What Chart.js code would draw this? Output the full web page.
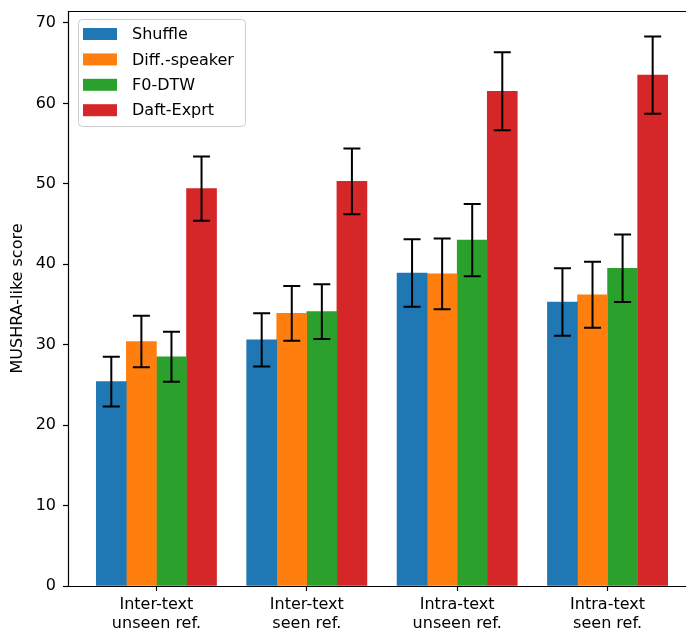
<!DOCTYPE html>
<html>
<head>
<meta charset="utf-8">
<script src="https://cdn.jsdelivr.net/npm/chart.js@4/dist/chart.umd.min.js"></script>
<style>
  html, body { margin: 0; padding: 0; background: #fff; }
  #wrap { width: 686px; height: 633px; position: relative; }
</style>
</head>
<body>
<div id="wrap"><canvas id="scoreChart"></canvas></div>
<script>
// categories (x tick labels, two lines each)
const categories = [
    ["Inter-text", "unseen ref."],
    ["Inter-text", "seen ref."],
    ["Intra-text", "unseen ref."],
    ["Intra-text", "seen ref."]
];
const systems = ["Shuffle", "Diff.-speaker", "F0-DTW", "Daft-Exprt"];

// mean scores and error bar half-widths
const shuffleScores = [25.4, 30.6, 38.9, 35.3];
const shuffleErr = [3.1, 3.3, 4.2, 4.2];
const diffSpeakerScores = [30.4, 33.9, 38.8, 36.2];
const diffSpeakerErr = [3.2, 3.4, 4.4, 4.1];
const f0DtwScores = [28.5, 34.1, 43.0, 39.5];
const f0DtwErr = [3.1, 3.4, 4.5, 4.2];
const daftScores = [49.4, 50.3, 61.5, 63.5];
const daftErr = [4.0, 4.1, 4.85, 4.8];

const yTicks = [0, 10, 20, 30, 40, 50, 60, 70];

const colors = ["#1f77b4", "#ff7f0e", "#2ca02c", "#d62728"];
const barOffsets = [-0.3, -0.1, 0.1, 0.3];
const FONT = "'DejaVu Sans', sans-serif";

Chart.defaults.font.family = FONT;
Chart.defaults.color = "#000";

const allScores = [shuffleScores, diffSpeakerScores, f0DtwScores, daftScores];
const allErr = [shuffleErr, diffSpeakerErr, f0DtwErr, daftErr];

const datasets = systems.map((name, d) => ({
    label: name,
    data: allScores[d].map((v, i) => ({ x: i + barOffsets[d], y: v })),
    errors: allErr[d],
    backgroundColor: colors[d],
    borderWidth: 0,
    grouped: false,
    barThickness: 30
}));

// error bars with caps
const errorBars = {
    id: "errorBars",
    afterDatasetsDraw(chart) {
        const ctx = chart.ctx;
        const yScale = chart.scales.y;
        ctx.save();
        ctx.strokeStyle = "#000";
        ctx.lineWidth = 2;
        chart.data.datasets.forEach((ds, d) => {
            chart.getDatasetMeta(d).data.forEach((bar, i) => {
                const v = ds.data[i].y;
                const e = ds.errors[i];
                const top = yScale.getPixelForValue(v + e);
                const bot = yScale.getPixelForValue(v - e);
                const x = bar.x;
                ctx.beginPath();
                ctx.moveTo(x, top); ctx.lineTo(x, bot);
                ctx.moveTo(x - 8.5, top); ctx.lineTo(x + 8.5, top);
                ctx.moveTo(x - 8.5, bot); ctx.lineTo(x + 8.5, bot);
                ctx.stroke();
            });
        });
        ctx.restore();
    }
};

// axes frame (right spine falls outside the picture) + legend box
const frameAndLegend = {
    id: "frameAndLegend",
    afterDraw(chart) {
        const ctx = chart.ctx;
        const a = chart.chartArea;
        ctx.save();
        ctx.strokeStyle = "#000";
        ctx.lineWidth = 1.2;
        ctx.beginPath();
        ctx.moveTo(chart.width, a.top + 0.5);
        ctx.lineTo(a.left + 0.5, a.top + 0.5);
        ctx.lineTo(a.left + 0.5, a.bottom + 0.5);
        ctx.lineTo(chart.width, a.bottom + 0.5);
        ctx.stroke();

        const bx = a.left + 10, by = a.top + 8, bw = 167, bh = 107, r = 4;
        ctx.beginPath();
        ctx.roundRect(bx + 0.5, by + 0.5, bw, bh, r);
        ctx.fillStyle = "rgba(255,255,255,0.8)";
        ctx.fill();
        ctx.strokeStyle = "#cccccc";
        ctx.lineWidth = 1;
        ctx.stroke();

        ctx.font = "16px " + FONT;
        ctx.textBaseline = "middle";
        ctx.textAlign = "left";
        chart.data.datasets.forEach((ds, d) => {
            const cy = by + 15 + d * 25.4;
            ctx.fillStyle = ds.backgroundColor;
            ctx.fillRect(bx + 5, cy - 6, 34, 12);
            ctx.fillStyle = "#000";
            ctx.fillText(ds.label, bx + 54, cy + 1);
        });
        ctx.restore();
    }
};

new Chart(document.getElementById("scoreChart"), {
    type: "bar",
    data: { datasets: datasets },
    options: {
        responsive: true,
        maintainAspectRatio: false,
        animation: false,
        layout: { padding: { top: 11, right: 1, left: 0, bottom: 0 } },
        plugins: {
            legend: { display: false },
            tooltip: { enabled: false }
        },
        scales: {
            x: {
                type: "linear",
                min: -0.588,
                max: 3.515,
                offset: false,
                afterFit: s => {
                    s.height = 47;
                    s.paddingLeft = 0;
                    s.paddingRight = 0;
                },
                afterBuildTicks: s => {
                    s.ticks = categories.map((c, i) => ({ value: i }));
                },
                grid: {
                    display: true,
                    offset: false,
                    drawOnChartArea: false,
                    drawTicks: true,
                    tickLength: 5,
                    tickWidth: 1.2,
                    color: "#000"
                },
                border: { display: false },
                ticks: {
                    includeBounds: false,
                    stepSize: 1,
                    autoSkip: false,
                    maxRotation: 0,
                    padding: 4,
                    font: { size: 16, lineHeight: 1.2 },
                    callback: v => categories[v] || ""
                }
            },
            y: {
                min: 0,
                max: 71.48,
                afterFit: s => {
                    s.width = 68;
                    s.paddingTop = 0;
                    s.paddingBottom = 0;
                },
                afterBuildTicks: s => {
                    s.ticks = yTicks.map(v => ({ value: v }));
                },
                grid: {
                    display: true,
                    drawOnChartArea: false,
                    drawTicks: true,
                    tickLength: 5,
                    tickWidth: 1.2,
                    color: "#000"
                },
                border: { display: false },
                ticks: {
                    includeBounds: false,
                    stepSize: 10,
                    padding: 7,
                    font: { size: 16 }
                },
                title: {
                    display: true,
                    text: "MUSHRA-like score",
                    font: { size: 16 },
                    padding: { top: 8, bottom: 0 }
                }
            }
        }
    },
    plugins: [errorBars, frameAndLegend]
});
</script>
</body>
</html>
